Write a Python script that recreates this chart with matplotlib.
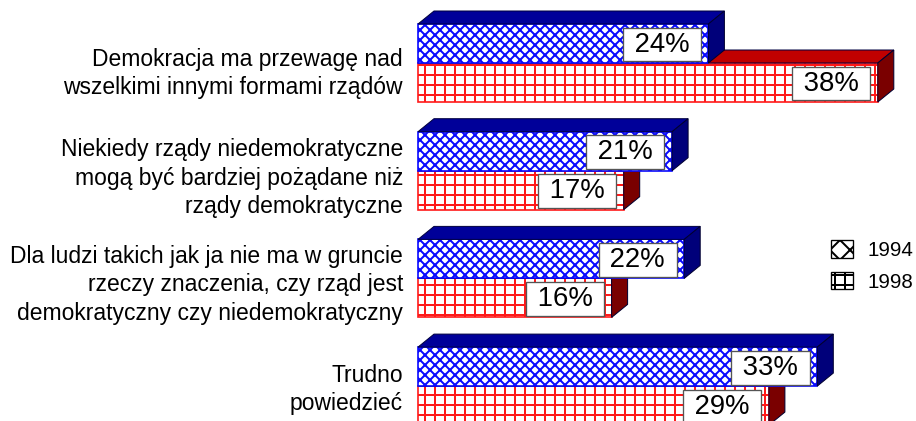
import matplotlib.pyplot as plt
from matplotlib.patches import Polygon, Patch

# data
categories = [
    "Demokracja ma przewagę nad\nwszelkimi innymi formami rządów",
    "Niekiedy rządy niedemokratyczne\nmogą być bardziej pożądane niż\nrządy demokratyczne",
    "Dla ludzi takich jak ja nie ma w gruncie\nrzeczy znaczenia, czy rząd jest\ndemokratyczny czy niedemokratyczny",
    "Trudno\npowiedzieć",
]
values_1994 = [24, 21, 22, 33]
values_1998 = [38, 17, 16, 29]
series_labels = ["1994", "1998"]

DPI = 120
plt.rcParams['font.family'] = ['Liberation Sans', 'DejaVu Sans']
plt.rcParams['hatch.linewidth'] = 1.2

fig = plt.figure(figsize=(916 / DPI, 421 / DPI), dpi=DPI)
ax = fig.add_axes([0, 0, 1, 1])
ax.axis('off')

# scale: 0% at x=418px, 12.1 px per percent; rows 107.7 px apart
px_per_pct = 12.1
ax.set_xlim(-418 / px_per_pct, (916 - 418) / px_per_pct)
row = 107.7
ax.set_ylim((421 - 63) / row, -63 / row)

h = 39 / row          # bar thickness
dx = 16 / px_per_pct  # 3d depth in x
dy = 13 / row         # 3d depth in y

blue = dict(front='#0a0aff', top='#000099', side='#00007a')
red = dict(front='#ff1a1a', top='#c00000', side='#7a0000')


def bar3d(y0, v, c, hatch, z):
    # front face drawn with the library's barh, faces as polygons
    ax.barh(y0, v, height=h, left=0, align='edge', color='white',
            edgecolor=c['front'], hatch=hatch, linewidth=1.0, zorder=z)
    top = [(0, y0), (v, y0), (v + dx, y0 - dy), (dx, y0 - dy)]
    side = [(v, y0), (v + dx, y0 - dy), (v + dx, y0 + h - dy), (v, y0 + h)]
    ax.add_patch(Polygon(top, closed=True, fc=c['top'], ec='#000040', lw=0.6, zorder=z))
    ax.add_patch(Polygon(side, closed=True, fc=c['side'], ec='#000030', lw=0.6, zorder=z))


label_shift = [0.10, 0.07, 0.06, 0.03]

for i, (cat, b, r) in enumerate(zip(categories, values_1994, values_1998)):
    z = 10 + i * 3
    bar3d(i, r, red, '++', z)
    bar3d(i - h, b, blue, 'xxxx', z + 1)
    box = dict(boxstyle='square,pad=0.14', fc='white', ec='#555555', lw=0.8)
    ax.text(b - 0.95, i - h / 2 + 0.01, f" {b}% ", ha='right', va='center',
            fontsize=16.5, bbox=box, zorder=40)
    ax.text(r - 0.95, i + h / 2 + 0.01, f" {r}% ", ha='right', va='center',
            fontsize=16.5, bbox=box, zorder=40)
    ax.text(-15 / px_per_pct, i + label_shift[i], cat, ha='right', va='center',
            multialignment='right', fontsize=13.7, linespacing=1.3, zorder=40)

handles = [Patch(facecolor='white', edgecolor='black', hatch='xx', lw=0.8),
           Patch(facecolor='white', edgecolor='black', hatch='++', lw=0.8)]
fig.legend(handles, series_labels, loc='center left', bbox_to_anchor=(831 / 916, 1 - 266 / 421),
           frameon=False, fontsize=12.3, handlelength=1.05, handleheight=0.95,
           handletextpad=0.75, labelspacing=0.55, borderpad=0, borderaxespad=0)

fig.savefig('out.png', dpi=DPI)
